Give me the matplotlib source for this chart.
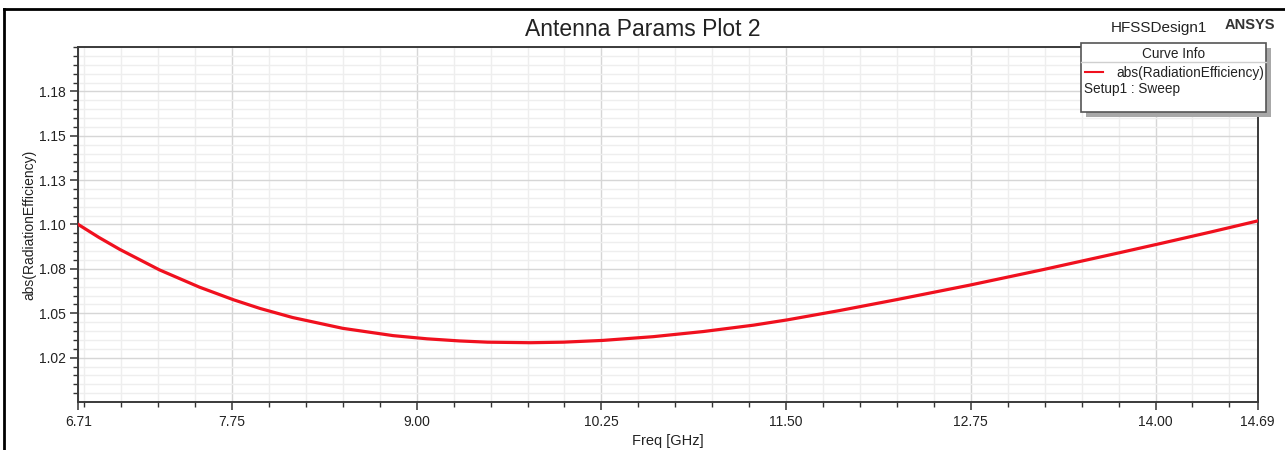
import numpy as np
import matplotlib
matplotlib.use("Agg")
import matplotlib.pyplot as plt
from matplotlib.patches import Rectangle
from matplotlib.lines import Line2D

plt.rcParams['font.family'] = ['Liberation Sans', 'DejaVu Sans']

# curve
freq = [6.71, 6.85, 6.99, 7.26, 7.53, 7.76, 7.94, 8.16, 8.50, 8.84, 9.07, 9.29,
        9.48, 9.77, 9.99, 10.26, 10.60, 10.94, 11.28, 11.51, 11.86, 12.25,
        12.74, 13.24, 13.74, 14.05, 14.37, 14.69]
rad_eff = [1.1000, 1.0927, 1.0860, 1.0744, 1.0647, 1.0576, 1.0527, 1.0476,
           1.0415, 1.0374, 1.0356, 1.0344, 1.0337, 1.0334, 1.0337, 1.0347,
           1.0368, 1.0397, 1.0433, 1.0463, 1.0515, 1.0577, 1.0658, 1.0746,
           1.0838, 1.0896, 1.0957, 1.1020]

x_ticks = [6.71, 7.75, 9.00, 10.25, 11.50, 12.75, 14.00, 14.69]
x_labels = ['6.71', '7.75', '9.00', '10.25', '11.50', '12.75', '14.00', '14.69']
y_ticks = [1.025, 1.05, 1.075, 1.10, 1.125, 1.15, 1.175]
y_labels = ['1.02', '1.05', '1.08', '1.10', '1.13', '1.15', '1.18']

W, H = 1285, 450
fig = plt.figure(figsize=(W / 100, H / 100), dpi=100)


def px(x, y):
    return x / W, 1 - y / H


ax = fig.add_axes([78.3 / W, 1 - 402 / H, (1257.5 - 78.3) / W, (402 - 47) / H])
ax.plot(freq, rad_eff, color='#f0101e', lw=2.3, solid_joinstyle='round', zorder=3)

ax.set_xlim(6.71, 14.69)
ax.set_ylim(1.0, 1.2)
ax.set_xticks(x_ticks)
ax.set_xticklabels(x_labels)
ax.set_xticks(np.arange(6.75, 14.6, 0.25), minor=True)
ax.set_yticks(y_ticks)
ax.set_yticklabels(y_labels)
ax.set_yticks(np.arange(1.005, 1.2, 0.005), minor=True)

ax.grid(which='major', color='#d6d6d6', lw=1.0)
ax.grid(which='minor', color='#eeeeee', lw=1.0)
ax.set_axisbelow(True)

ax.tick_params(which='major', length=6, width=1.1, color='#333333',
               labelsize=10, labelcolor='#222222', pad=3)
ax.tick_params(which='minor', length=3.5, width=1.0, color='#333333')
for s in ax.spines.values():
    s.set_color('#3a3a3a')
    s.set_linewidth(1.4)

ax.set_xlabel('Freq [GHz]', fontsize=10.5, color='#222222', labelpad=4)
ax.set_ylabel('abs(RadiationEfficiency)', fontsize=10, color='#222222', labelpad=1.5)

fig.text(*px(643, 29), 'Antenna Params Plot 2', fontsize=16.5, ha='center',
         va='center', color='#222222')
fig.text(*px(1207, 28), 'HFSSDesign1', fontsize=11, ha='right', va='center',
         color='#222222')
fig.text(*px(1275, 25), 'ANSYS', fontsize=10.5, fontweight='bold', ha='right',
         va='center', color='#333333')

# outer frame (left and top edges visible)
fig.add_artist(Line2D([3.5 / W, 3.5 / W], [0, 1 - 9 / H], transform=fig.transFigure,
                      color='black', lw=2))
fig.add_artist(Line2D([3.5 / W, 1], [1 - 9 / H, 1 - 9 / H], transform=fig.transFigure,
                      color='black', lw=2))

# legend box with shadow
bx0, by0, bx1, by1 = 1081, 43, 1266, 112
fig.add_artist(Rectangle(px(bx0 + 5, by1 + 5), (bx1 - bx0) / W, (by1 - by0) / H,
                         transform=fig.transFigure, facecolor='#a8a8a8',
                         edgecolor='none', zorder=5))
fig.add_artist(Rectangle(px(bx0, by1), (bx1 - bx0) / W, (by1 - by0) / H,
                         transform=fig.transFigure, facecolor='white',
                         edgecolor='#555555', lw=1.2, zorder=6))
fig.add_artist(Line2D([bx0 / W, bx1 / W], [1 - 62 / H, 1 - 62 / H],
                      transform=fig.transFigure, color='#cfcfcf', lw=1, zorder=7))
fig.add_artist(Line2D([1085 / W, 1103 / W], [1 - 72 / H, 1 - 72 / H],
                      transform=fig.transFigure, color='#f0101e', lw=1.5, zorder=7))
fig.text(*px(1174, 54), 'Curve Info', fontsize=9.8, ha='center', va='center',
         color='#222222', zorder=7)
fig.text(*px(1116, 73), 'abs(RadiationEfficiency)', fontsize=9.8, ha='left',
         va='center', color='#222222', zorder=7)
fig.text(*px(1084, 89), 'Setup1 : Sweep', fontsize=9.8, ha='left', va='center',
         color='#222222', zorder=7)

fig.savefig('out.png', dpi=100)
